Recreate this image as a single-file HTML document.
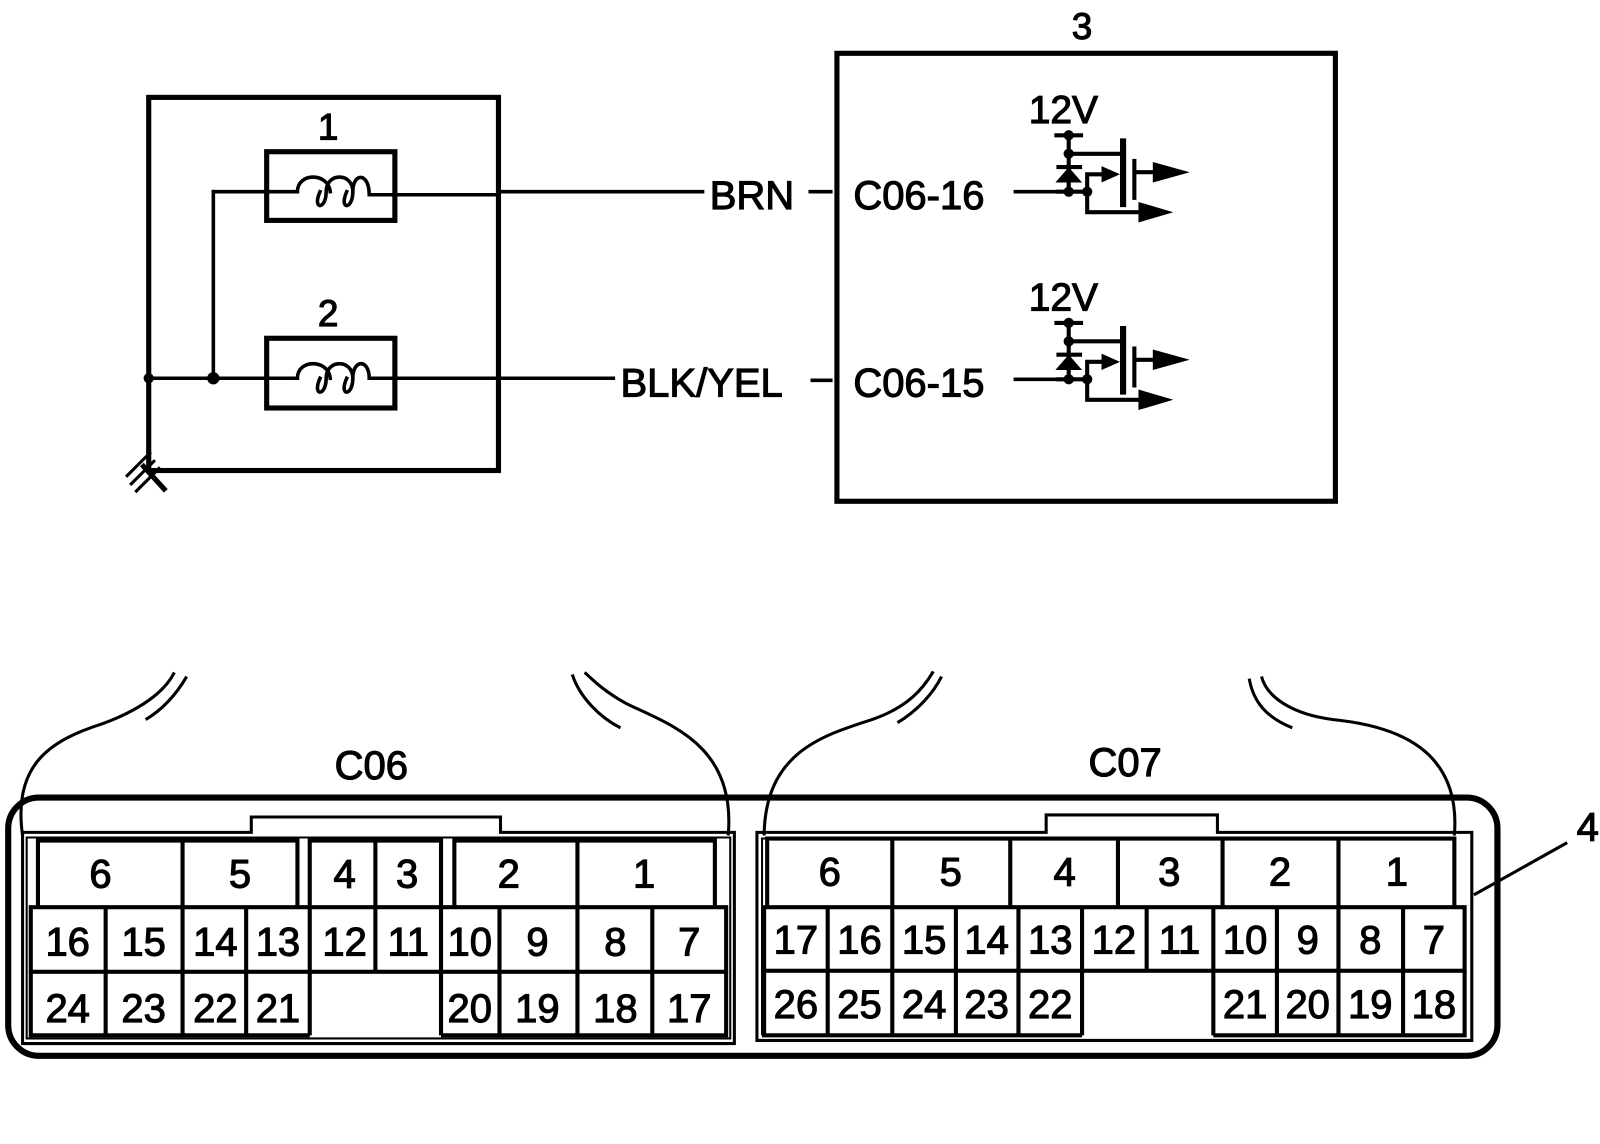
<!DOCTYPE html>
<html><head><meta charset="utf-8"><style>
html,body{margin:0;padding:0;background:#fff}
svg{display:block}
text{font-family:"Liberation Sans",Arial,sans-serif;fill:#000;stroke:#000;stroke-width:1.1}
</style></head><body>
<svg width="1600" height="1144" viewBox="0 0 1560 1116" preserveAspectRatio="none" xmlns="http://www.w3.org/2000/svg">
<g fill="none" stroke="#000" stroke-linecap="square">
<rect x="145" y="95" width="341" height="364" stroke-width="5"/>
<path d="M124 464 L146 442 M128 472 L150 450 M133 479 L155 457" stroke-width="3"/>
<path d="M140 455 L160 477" stroke-width="5"/>
<rect x="260" y="148" width="125" height="67" stroke-width="5"/>
<rect x="260" y="330" width="125" height="68" stroke-width="5"/>
<g stroke-width="3.5">
<path d="M208 187 L290 187 C290 168 320 168 322 187 M312 187 C304 205 318 205 318 187 C318 168 344 168 344 187 M338 187 C330 205 344 205 344 187 C344 168 360 168 360 190 L486 190"/>
<path d="M486 187 L685 187"/>
<path d="M145 369 L290 369 C290 350 320 350 322 369 M312 369 C304 387 318 387 318 369 C318 350 344 350 344 369 M338 369 C330 387 344 387 344 369 C344 350 360 350 360 369 L598 369"/>
<path d="M208 187 L208 369"/>
<path d="M790 187 L810 187 M792 371 L810 371"/>
<path d="M990 187 L1040 187 M990 370 L1040 370"/>
</g>
<rect x="816" y="52" width="486" height="437" stroke-width="5"/>
</g>
<circle cx="145" cy="369" r="5"/><circle cx="208" cy="369" r="6"/>
<g font-size="36" text-anchor="middle">
<text x="320" y="136">1</text>
<text x="320" y="318">2</text>
<text x="1055" y="38">3</text>
</g>
<text x="692" y="204" font-size="39">BRN</text>
<text x="832" y="204" font-size="39">C06-16</text>
<text x="605" y="387" font-size="39">BLK/YEL</text>
<text x="832" y="387" font-size="39">C06-15</text>
<g id="tr">
<text x="1003" y="120" font-size="38">12V</text>
<g fill="none" stroke="#000" stroke-width="4">
<path d="M1028 132 L1056 132 M1042 132 L1042 190 M1042 150 L1095 150 M1030 163 L1055 163 M1030 187 L1060 187 M1060 187 L1060 170 L1078 170 M1060 187 L1060 207 L1110 207 M1105 168 L1130 168"/>
<path d="M1095 135 L1095 202" stroke-width="6"/>
<path d="M1106 155 L1106 195" stroke-width="4"/>
</g>
<path d="M1055 178 L1042 163 L1029 178 Z"/>
<path d="M1074 162 L1092 170 L1074 178 Z"/>
<path d="M1124 158 L1160 168 L1124 178 Z"/>
<path d="M1110 197 L1144 207 L1110 217 Z"/>
<circle cx="1042" cy="132" r="5"/><circle cx="1042" cy="150" r="5"/><circle cx="1042" cy="187" r="5"/><circle cx="1060" cy="187" r="5"/>
</g>
<use href="#tr" transform="translate(0,183)"/>
<g fill="none" stroke="#000">
<rect x="8" y="778" width="1452" height="252" rx="30" stroke-width="6"/>
<path d="M22 1018 L22 812 L245 812 L245 797 L488 797 L488 812 L716 812 L716 1018 Z" stroke-width="3"/>
<path d="M26 1013 L26 817 L712 817 L712 1013 Z" stroke-width="2"/>
<path d="M738 1015 L738 812 L1020 812 L1020 795 L1187 795 L1187 812 L1435 812 L1435 1015 Z" stroke-width="3"/>
<path d="M743 1010 L743 818 L1418 818" stroke-width="2"/>
<path d="M1437 873 L1528 822" stroke-width="3"/>
<g stroke-width="3">
<path d="M22 815 C12 745 50 722 100 706 C135 693 160 676 170 656"/>
<path d="M142 702 C162 690 175 672 182 660"/>
<path d="M710 815 C718 725 650 706 610 686 C585 672 575 660 570 656"/>
<path d="M558 658 C565 680 585 700 605 710"/>
<path d="M745 815 C746 735 800 718 850 702 C885 690 900 672 910 655"/>
<path d="M875 705 C895 693 910 676 918 660"/>
<path d="M1418 815 C1425 730 1360 708 1300 702 C1260 697 1235 680 1230 660"/>
<path d="M1218 662 C1222 685 1235 700 1260 710"/>
</g>
<g stroke-width="4">
<path d="M37 885 L37 820 L290 820 L290 885 M178 820 L178 885"/>
<path d="M302 885 L302 820 L430 820 L430 885 M366 820 L366 885"/>
<path d="M443 885 L443 820 L697 820 L697 885 M563 820 L563 885"/>
<rect x="30" y="885" width="678" height="63"/>
<path d="M103 885 L103 1010 M178 885 L178 1010 M240 885 L240 1010 M302 885 L302 1010 M366 885 L366 948 M430 885 L430 1010 M487 885 L487 1010 M563 885 L563 1010 M636 885 L636 1010"/>
<path d="M30 948 L30 1010 L302 1010 M430 1010 L708 1010 L708 948"/>
</g>
<g stroke-width="4">
<path d="M748 885 L748 818 L1418 818 L1418 885"/>
<path d="M870 818 L870 885 M985 818 L985 885 M1090 818 L1090 885 M1192 818 L1192 885 M1305 818 L1305 885"/>
<rect x="745" y="885" width="683" height="62"/>
<path d="M807 885 L807 1010 M870 885 L870 1010 M932 885 L932 1010 M993 885 L993 1010 M1055 885 L1055 1010 M1118 885 L1118 947 M1183 885 L1183 1010 M1245 885 L1245 1010 M1305 885 L1305 1010 M1368 885 L1368 1010"/>
<path d="M745 947 L745 1010 L1055 1010 M1183 1010 L1428 1010 L1428 947"/>
</g>
</g>
<g font-size="39" text-anchor="middle">
<text x="362" y="760">C06</text>
<text x="1097" y="757">C07</text>
<text x="1548" y="820">4</text>
<text x="98" y="866">6</text><text x="234" y="866">5</text><text x="336" y="866">4</text><text x="397" y="866">3</text><text x="496" y="866">2</text><text x="628" y="866">1</text>
<text x="66" y="932">16</text><text x="140" y="932">15</text><text x="210" y="932">14</text><text x="271" y="932">13</text><text x="336" y="932">12</text><text x="398" y="932">11</text><text x="458" y="932">10</text><text x="524" y="932">9</text><text x="600" y="932">8</text><text x="672" y="932">7</text>
<text x="66" y="997">24</text><text x="140" y="997">23</text><text x="210" y="997">22</text><text x="271" y="997">21</text><text x="458" y="997">20</text><text x="524" y="997">19</text><text x="600" y="997">18</text><text x="672" y="997">17</text>
<text x="809" y="864">6</text><text x="927" y="864">5</text><text x="1038" y="864">4</text><text x="1140" y="864">3</text><text x="1248" y="864">2</text><text x="1362" y="864">1</text>
<text x="776" y="930">17</text><text x="838" y="930">16</text><text x="901" y="930">15</text><text x="962" y="930">14</text><text x="1024" y="930">13</text><text x="1086" y="930">12</text><text x="1150" y="930">11</text><text x="1214" y="930">10</text><text x="1275" y="930">9</text><text x="1336" y="930">8</text><text x="1398" y="930">7</text>
<text x="776" y="993">26</text><text x="838" y="993">25</text><text x="901" y="993">24</text><text x="962" y="993">23</text><text x="1024" y="993">22</text><text x="1214" y="993">21</text><text x="1275" y="993">20</text><text x="1336" y="993">19</text><text x="1398" y="993">18</text>
</g>
</svg>
</body></html>
